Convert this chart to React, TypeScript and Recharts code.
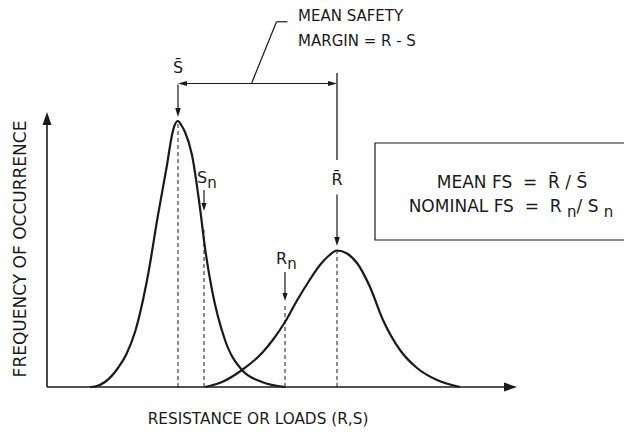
import React from 'react'
import { LineChart, Line, XAxis, YAxis, ReferenceLine, ReferenceDot, ReferenceArea } from 'recharts'

// load distribution S (x = load / resistance, f = frequency)
const loadX = [8.6, 9.6, 11.6, 14.2, 15.8, 17.6, 20.2, 22.2, 24.0, 25.0, 25.5, 26.2, 26.9, 27.6, 29.0, 30.6, 31.6, 33.0, 35.6, 39.0, 43.0, 47.6]
const loadFreq = [0, 0.2, 2, 7.6, 12.8, 22, 44.8, 68.8, 88.8, 100.8, 104.6, 106.4, 104.6, 102, 92.8, 71.6, 55.6, 38.8, 18.8, 6.8, 2, 0]

// resistance distribution R
const resX = [31.6, 35.0, 39.0, 43.0, 45.3, 47.6, 50.0, 52.4, 54.6, 56.4, 58.0, 60.0, 62.0, 64.6, 67.2, 70.6, 74.0, 78.0, 82.6]
const resFreq = [0, 2, 6.8, 13.6, 19.2, 26, 34.6, 42.4, 48.8, 52.6, 54.6, 53.4, 49.6, 40, 26.8, 14.8, 7.6, 2.8, 0]

// marked values on the x axis
const sMean = 26.2
const sNominal = 31.4
const rNominal = 47.6
const rMean = 58

const xTitle = 'RESISTANCE OR LOADS (R,S)'
const yTitle = 'FREQUENCY OF OCCURRENCE'
const marginText = ['MEAN SAFETY', 'MARGIN = R - S']

const sData = loadX.map((x, i) => ({ x, f: loadFreq[i] }))
const rData = resX.map((x, i) => ({ x, f: resFreq[i] }))

const ink = '#1a1a1a'
const font = 'DejaVu Sans'
const sp = '\u00A0'

// line with a filled arrow head at the end (or both ends)
const arrow = (both = false, len = 9, w = 3.2) => (p: any) => {
  const { x1, y1, x2, y2 } = p
  const d = Math.hypot(x2 - x1, y2 - y1) || 1
  const ux = (x2 - x1) / d
  const uy = (y2 - y1) / d
  const tri = (tx: number, ty: number, sx: number, sy: number) => {
    const bx = tx - sx * len
    const by = ty - sy * len
    return `${tx},${ty} ${bx - sy * w},${by + sx * w} ${bx + sy * w},${by - sx * w}`
  }
  const sx = both ? x1 + ux * len * 0.7 : x1
  const sy = both ? y1 + uy * len * 0.7 : y1
  return (
    <g>
      <line x1={sx} y1={sy} x2={x2 - ux * len * 0.7} y2={y2 - uy * len * 0.7} stroke={ink} strokeWidth={p.strokeWidth ?? 1.2} />
      <polygon points={tri(x2, y2, ux, uy)} fill={ink} />
      {both && <polygon points={tri(x1, y1, -ux, -uy)} fill={ink} />}
    </g>
  )
}

const label = (content: React.ReactNode, anchor: 'start' | 'middle' | 'end' = 'middle', size = 16, rotate = false) => (p: any) => (
  <text
    x={p.cx}
    y={p.cy}
    textAnchor={anchor}
    dominantBaseline={rotate ? 'central' : undefined}
    fontSize={size}
    fontFamily={font}
    fill={ink}
    transform={rotate ? `rotate(-90 ${p.cx} ${p.cy})` : undefined}
  >
    {content}
  </text>
)

const subN = <tspan dy={5} fontSize={15}>n</tspan>

const dash = { stroke: ink, strokeWidth: 1, strokeDasharray: '4 3' }

export default function App() {
  return (
    <div style={{ position: 'absolute', left: 0, top: 0, width: 624, height: 434, background: '#fff' }}>
      <LineChart width={624} height={434} margin={{ top: 12, right: 2, bottom: 47, left: 47 }}>
        <XAxis type="number" dataKey="x" domain={[0, 115]} hide />
        <YAxis type="number" domain={[0, 150]} hide />

        {/* axes with arrow heads */}
        <ReferenceLine segment={[{ x: 0, y: 0 }, { x: 94, y: 0 }]} ifOverflow="visible" strokeWidth={1.6} shape={arrow(false, 13, 4.5)} />
        <ReferenceLine segment={[{ x: 0, y: 0 }, { x: 0, y: 110 }]} ifOverflow="visible" strokeWidth={1.6} shape={arrow(false, 13, 4.5)} />

        {/* dashed markers */}
        <ReferenceLine segment={[{ x: sMean, y: 0 }, { x: sMean, y: 106 }]} ifOverflow="visible" {...dash} />
        <ReferenceLine segment={[{ x: sNominal, y: 0 }, { x: sNominal, y: 62.8 }]} ifOverflow="visible" {...dash} />
        <ReferenceLine segment={[{ x: rNominal, y: 0 }, { x: rNominal, y: 33.6 }]} ifOverflow="visible" {...dash} />
        <ReferenceLine segment={[{ x: rMean, y: 0 }, { x: rMean, y: 54.6 }]} ifOverflow="visible" {...dash} />

        <Line data={sData} dataKey="f" type="monotone" dot={false} stroke={ink} strokeWidth={2.2} isAnimationActive={false} />
        <Line data={rData} dataKey="f" type="monotone" dot={false} stroke={ink} strokeWidth={2.2} isAnimationActive={false} />

        {/* mean safety margin dimension */}
        <ReferenceLine segment={[{ x: sMean, y: 121.4 }, { x: rMean, y: 121.4 }]} ifOverflow="visible" strokeWidth={1.2} shape={arrow(true, 9, 2.6)} />
        <ReferenceLine segment={[{ x: rMean, y: 125.6 }, { x: rMean, y: 90.8 }]} ifOverflow="visible" stroke={ink} strokeWidth={1.3} />
        <ReferenceLine segment={[{ x: 40.9, y: 121.4 }, { x: 45.9, y: 146.1 }]} ifOverflow="visible" stroke={ink} strokeWidth={1.2} />
        <ReferenceLine segment={[{ x: 45.9, y: 146.1 }, { x: 48.1, y: 146.1 }]} ifOverflow="visible" stroke={ink} strokeWidth={1.2} />
        <ReferenceDot x={50.2} y={146.6} ifOverflow="visible" shape={label(marginText[0], 'start', 15)} />
        <ReferenceDot x={50.2} y={136.6} ifOverflow="visible" shape={label(marginText[1], 'start', 15)} />

        {/* pointer arrows */}
        <ReferenceLine segment={[{ x: sMean, y: 121 }, { x: sMean, y: 108 }]} ifOverflow="visible" strokeWidth={1.2} shape={arrow(false, 9, 2.8)} />
        <ReferenceLine segment={[{ x: sNominal, y: 78.8 }, { x: sNominal, y: 70.4 }]} ifOverflow="visible" strokeWidth={1.2} shape={arrow(false, 8, 2.6)} />
        <ReferenceLine segment={[{ x: rNominal, y: 46 }, { x: rNominal, y: 34.4 }]} ifOverflow="visible" strokeWidth={1.2} shape={arrow(false, 8, 2.6)} />
        <ReferenceLine segment={[{ x: rMean, y: 77 }, { x: rMean, y: 56.4 }]} ifOverflow="visible" strokeWidth={1.2} shape={arrow(false, 9, 2.8)} />

        {/* symbols */}
        <ReferenceDot x={sMean} y={125.6} ifOverflow="visible" shape={label('S\u0304')} />
        <ReferenceDot x={rMean} y={81} ifOverflow="visible" shape={label('R\u0304')} />
        <ReferenceDot x={30} y={81.6} ifOverflow="visible" shape={label(<>S{subN}</>, 'start')} />
        <ReferenceDot x={45.8} y={49.2} ifOverflow="visible" shape={label(<>R{subN}</>, 'start')} />

        {/* factor of safety box */}
        <ReferenceArea x1={65.6} x2={117} y1={58.8} y2={97.6} ifOverflow="visible" fill="none" stroke={ink} strokeWidth={1.2} />
        <ReferenceDot x={93} y={79.6} ifOverflow="visible" shape={label(`MEAN FS${sp}${sp}=${sp}${sp}R\u0304${sp}/${sp}S\u0304`, 'middle', 17)} />
        <ReferenceDot
          x={92.8}
          y={70}
          ifOverflow="visible"
          shape={label(
            <>
              {`NOMINAL FS${sp}${sp}=${sp}${sp}R${sp}`}
              {subN}
              <tspan dy={-5}>{`/${sp}S${sp}`}</tspan>
              {subN}
            </>,
            'middle',
            17,
          )}
        />

        {/* axis titles */}
        <ReferenceDot x={42.2} y={-14.8} ifOverflow="visible" shape={label(xTitle, 'middle', 15.3)} />
        <ReferenceDot x={-5.4} y={55.2} ifOverflow="visible" shape={label(yTitle, 'middle', 17, true)} />
      </LineChart>
    </div>
  )
}
